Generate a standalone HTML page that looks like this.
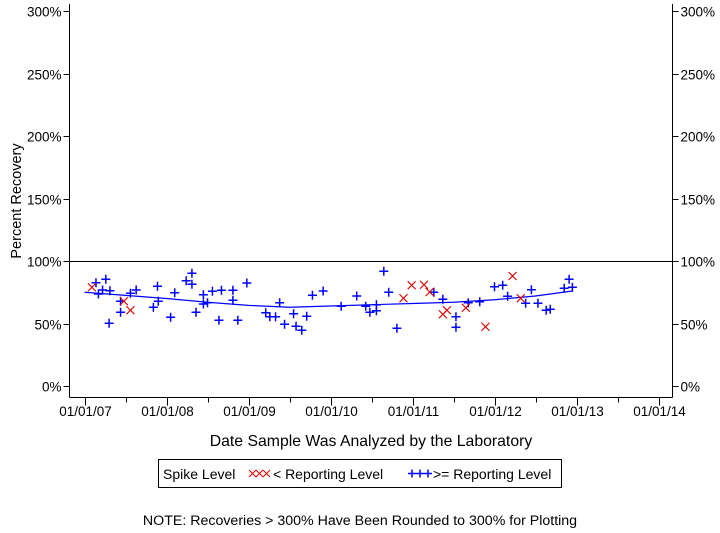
<!DOCTYPE html>
<html><head><meta charset="utf-8"><style>
body{margin:0;background:#fff;}
svg text{font-family:"Liberation Sans",Arial,sans-serif;fill:#000;}
</style></head><body>
<svg id="chart" width="720" height="528" viewBox="0 0 720 528" xmlns="http://www.w3.org/2000/svg">
<g id="axes"></g>
<g id="trend"></g>
<g id="marks"></g>
<text x="371" y="446" font-size="15.8" text-anchor="middle">Date Sample Was Analyzed by the Laboratory</text>
<text transform="translate(21,201) rotate(-90)" font-size="14.5" text-anchor="middle">Percent Recovery</text>
<g>
<rect x="158.5" y="459.5" width="403" height="28" fill="none" stroke="#000"/>
<text x="163" y="479" font-size="14">Spike Level</text>
<g stroke="#e00000" stroke-width="1">
<path d="M249 470l7 7M256 470l-7 7M256 470l7 7M263 470l-7 7M263 470l7 7M270 470l-7 7"/></g>
<text x="273" y="479" font-size="14">&lt; Reporting Level</text>
<g stroke="#0000ff" stroke-width="1.5">
<path d="M408 473.5h8M412 469.5v8M416 473.5h8M420 469.5v8M424 473.5h8M428 469.5v8"/></g>
<text x="433" y="479" font-size="14">&gt;= Reporting Level</text>
</g>
<text x="360" y="525" font-size="14.2" text-anchor="middle">NOTE: Recoveries &gt; 300% Have Been Rounded to 300% for Plotting</text>
</svg>
<script>
const yTicks=[0,50,100,150,200,250,300];
const xTickYears=[2007,2008,2009,2010,2011,2012,2013,2014];
const xTickLabels=["01/01/07","01/01/08","01/01/09","01/01/10","01/01/11","01/01/12","01/01/13","01/01/14"];
const aboveDates=[2007.14,2007.26,2007.17,2007.22,2007.31,2007.30,2007.44,2007.44,2007.56,2007.63,2007.89,2007.90,2007.84,2008.05,2008.10,2008.24,2008.31,2008.31,2008.45,2008.45,2008.50,2008.36,2008.56,2008.67,2008.64,2008.81,2008.81,2008.87,2008.98,2009.21,2009.26,2009.33,2009.38,2009.44,2009.55,2009.58,2009.65,2009.71,2009.78,2009.91,2010.13,2010.32,2010.43,2010.48,2010.56,2010.56,2010.65,2010.71,2010.81,2011.26,2011.37,2011.53,2011.53,2011.68,2011.82,2012.00,2012.10,2012.16,2012.38,2012.45,2012.53,2012.63,2012.68,2012.85,2012.91,2012.95];
const aboveValues=[82.6,85.4,73.6,76.8,76.2,50.2,67.8,59.0,74.2,76.8,79.8,67.8,63.0,55.0,74.6,84.2,90.2,81.4,73.0,65.6,66.6,59.0,75.8,76.6,52.6,76.6,68.6,52.6,82.4,58.6,55.4,55.4,66.6,49.4,57.8,47.8,44.6,55.8,72.6,76.0,63.8,72.0,63.8,59.0,60.2,65.0,91.8,75.0,46.2,75.0,69.4,55.4,47.0,66.6,67.4,79.4,80.6,71.8,66.2,77.0,66.2,60.6,61.4,78.2,85.4,79.0];
const belowDates=[2007.09,2007.48,2007.56,2010.89,2010.99,2011.14,2011.21,2011.37,2011.42,2011.65,2011.89,2012.22,2012.32];
const belowValues=[79.0,67.8,60.6,70.2,80.6,81.0,75.2,57.4,60.6,62.6,47.4,88.0,70.2];
const trendDates=[2007.0,2007.5,2008.0,2008.5,2009.0,2009.5,2010.0,2010.5,2011.0,2011.5,2012.0,2012.5,2012.95];
const trendValues=[75,72.5,70,67,64.5,63,64,65,66,67,69,72,76];

const NS="http://www.w3.org/2000/svg";
const X0=69.5,X1=672.5,YB=397.5,YT=4;
function xs(yr){return 84.5+(yr-2007)*82;}
function ys(v){return 386-v*1.25;}
function mk(tag,attrs,parent){const e=document.createElementNS(NS,tag);for(const k in attrs)e.setAttribute(k,attrs[k]);parent.appendChild(e);return e;}
const axes=document.getElementById('axes');
let l;
l=mk('line',{x1:X0,y1:YT,x2:X0,y2:YB,stroke:'#000'},axes);


l=mk('line',{x1:X1,y1:YT,x2:X1,y2:YB,stroke:'#000'},axes);


l=mk('line',{x1:X0,y1:YB,x2:X1,y2:YB,stroke:'#000'},axes);


l=mk('line',{x1:X0,y1:ys(100)+0.5,x2:X1,y2:ys(100)+0.5,stroke:'#000'},axes);


yTicks.forEach(v=>{
  const y=Math.round(ys(v))+0.5;
  let t=mk('line',{x1:X0-6,y1:y,x2:X0,y2:y,stroke:'#000'},axes);
  
  
  t=mk('line',{x1:X1,y1:y,x2:X1+6,y2:y,stroke:'#000'},axes);
  
  
  let tx=mk('text',{x:X0-8,y:y+5,'font-size':13.5,'text-anchor':'end'},axes);
  tx.textContent=v+'%';
  
  
  tx=mk('text',{x:X1+8,y:y+5,'font-size':13.5},axes);
  tx.textContent=v+'%';
  
  
});
xTickYears.forEach((yr,i)=>{
  const x=Math.round(xs(yr))+0.5;
  let t=mk('line',{x1:x,y1:YB,x2:x,y2:YB+8,stroke:'#000'},axes);
  
  
  if(i<xTickYears.length-1){
    const xm=Math.round(xs(yr+0.5))+0.5;
    t=mk('line',{x1:xm,y1:YB,x2:xm,y2:YB+5,stroke:'#000'},axes);
    
    
  }
  const tx=mk('text',{x:x,y:416,'font-size':13.5,'text-anchor':'middle'},axes);
  tx.textContent=xTickLabels[i];
  
  
});
const trend=document.getElementById('trend');
const tl=mk('polyline',{points:trendDates.map((d,i)=>xs(d)+','+ys(trendValues[i])).join(' '),fill:'none',stroke:'#0000ff','stroke-width':1.2},trend);


const marks=document.getElementById('marks');
aboveDates.forEach((d,i)=>{
  const x=xs(d),y=ys(aboveValues[i]);
  const p=mk('path',{d:`M${x-4.5} ${y}h9M${x} ${y-4.5}v9`,stroke:'#0000ff','stroke-width':1.5,fill:'none'},marks);
  
  
});
belowDates.forEach((d,i)=>{
  const x=xs(d),y=ys(belowValues[i]);
  const p=mk('path',{d:`M${x-4} ${y-4}l8 8M${x+4} ${y-4}l-8 8`,stroke:'#e00000','stroke-width':1.2,fill:'none'},marks);
  
  
});
</script>
</body></html>
